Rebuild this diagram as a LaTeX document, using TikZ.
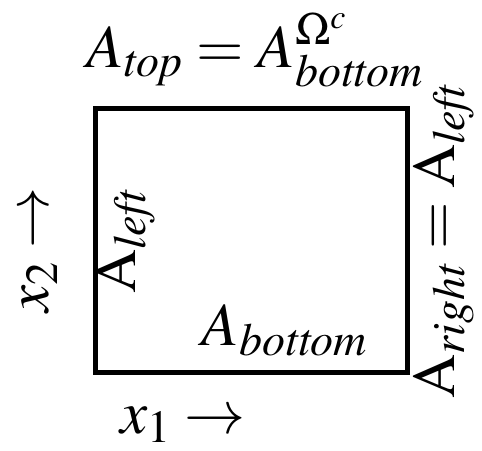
\documentclass[tikz,border=0pt]{standalone}
\usepackage{mathptmx}
\usepackage{tikz}
\usetikzlibrary{positioning}
\DeclareMathSizes{30.5}{30.5}{23}{17}

\begin{document}
\begin{tikzpicture}[
          x=0.5pt, y=-0.5pt,
          regionbox/.style={draw=black, line width=2.5pt, minimum width=156pt,
                         minimum height=132pt, inner sep=0pt},
          lbl/.style={font=\fontsize{30.5}{36}\selectfont, inner sep=0pt, anchor=base}
        ]
        \useasboundingbox (0,0) rectangle (482,450);
        \node[regionbox] (dom) at (251,240) {};
        \node[lbl] (toplbl) at (255,67) {$A_{\mathit{top}} = A^{\Omega^c}_{\mathit{bottom}}$};
        \node[lbl] (botlbl) at (285,345) {$A_{\mathit{bottom}}$};
        \node[lbl, rotate=90] (leftlbl) at (135,241) {$\mathrm{A}_{\mathit{left}}$};
        \node[lbl, rotate=90] (rightlbl) at (454,241) {$\mathrm{A}_{\mathit{right}} = \mathrm{A}_{\mathit{left}}$};
        % axis directions
        \node[lbl] (xone) at (183,433) {$x_1 \rightarrow$};
        \node[lbl, rotate=90] (xtwo) at (48,250) {$x_2 \rightarrow$};
      \end{tikzpicture}
\end{document}
